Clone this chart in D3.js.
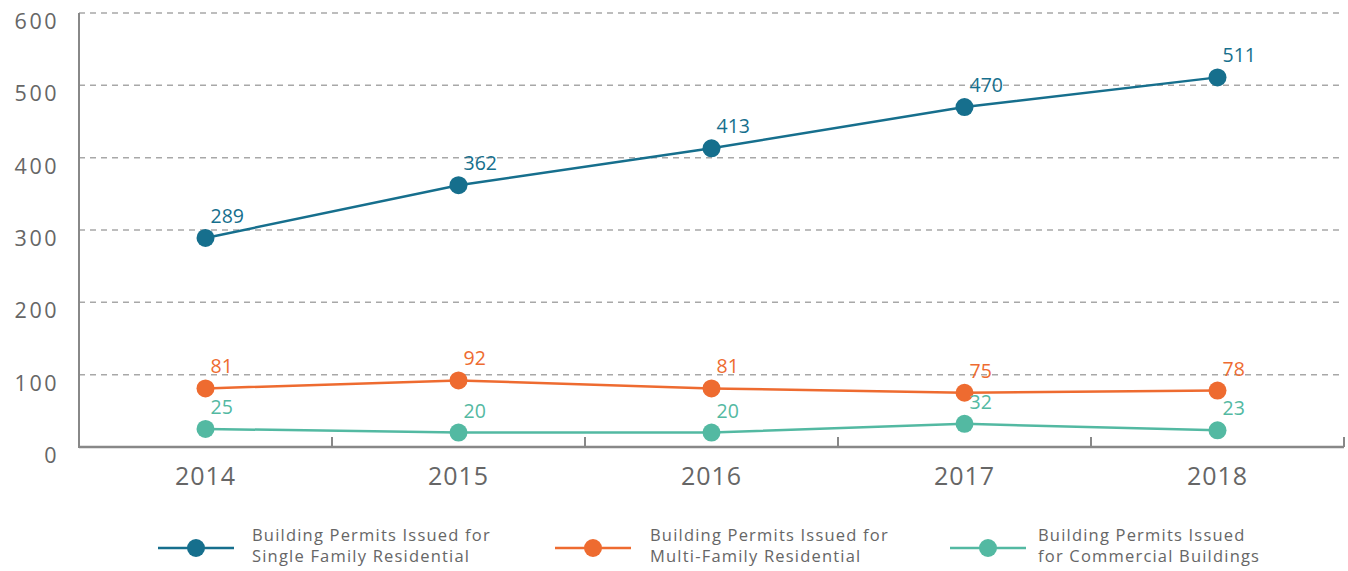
<!DOCTYPE html>
<html>
<head>
<meta charset="utf-8">
<script src="https://cdn.jsdelivr.net/npm/d3@7"></script>
<style>
  body { margin: 0; background: #fff; }
  svg text { font-family: "Open Sans", "Noto Sans", sans-serif; }
</style>
</head>
<body>
<svg id="chart"></svg>
<script>
const years = ["2014", "2015", "2016", "2017", "2018"];
const singleFamily = [289, 362, 413, 470, 511];
const multiFamily = [81, 92, 81, 75, 78];
const commercial = [25, 20, 20, 32, 23];
const yTicks = [0, 100, 200, 300, 400, 500, 600];
const seriesNames = [
  ["Building Permits Issued for", "Single Family Residential"],
  ["Building Permits Issued for", "Multi-Family Residential"],
  ["Building Permits Issued", "for Commercial Buildings"]
];
const colors = ["#166f8d", "#ee6b30", "#53b9a2"];

const width = 1348, height = 571;
const marginLeft = 79, marginRight = 4, marginTop = 13, marginBottom = 124;

const svg = d3.select("#chart")
  .attr("width", width)
  .attr("height", height);

const x = d3.scaleBand()
  .domain(years)
  .range([marginLeft, width - marginRight]);
const y = d3.scaleLinear()
  .domain([0, 600])
  .range([height - marginBottom, marginTop]);

// gridlines
svg.append("g").selectAll("line")
  .data(yTicks.filter(d => d > 0))
  .join("line")
  .attr("x1", marginLeft).attr("x2", width - marginRight)
  .attr("y1", d => y(d)).attr("y2", d => y(d))
  .attr("stroke", "#a8a8a8")
  .attr("stroke-width", 1.5)
  .attr("stroke-dasharray", "6,5");

// y labels
svg.append("g").selectAll("text")
  .data(yTicks)
  .join("text")
  .attr("x", 59)
  .attr("y", d => y(d) + 16)
  .attr("text-anchor", "end")
  .attr("fill", "#666")
  .style("font-size", "21.5px")
  .style("letter-spacing", "2.5px")
  .text(d => d);

// axes lines
const axisColor = "#888";
svg.append("line")
  .attr("x1", marginLeft).attr("x2", marginLeft)
  .attr("y1", y(600)).attr("y2", y(0) + 1)
  .attr("stroke", axisColor).attr("stroke-width", 2);
svg.append("line")
  .attr("x1", marginLeft).attr("x2", width - marginRight)
  .attr("y1", y(0)).attr("y2", y(0))
  .attr("stroke", axisColor).attr("stroke-width", 2.5);

// category boundary ticks
const bounds = years.slice(1).map(d => x(d)).concat([width - marginRight]);
svg.append("g").selectAll("line")
  .data(bounds)
  .join("line")
  .attr("x1", d => d).attr("x2", d => d)
  .attr("y1", y(0) - 10).attr("y2", y(0))
  .attr("stroke", axisColor).attr("stroke-width", 2);

// x labels
svg.append("g").selectAll("text")
  .data(years)
  .join("text")
  .attr("x", d => x(d) + x.bandwidth() / 2)
  .attr("y", y(0) + 38)
  .attr("text-anchor", "middle")
  .attr("fill", "#666")
  .style("font-size", "25px")
  .style("letter-spacing", "1px")
  .text(d => d);

const cx = d => x(d) + x.bandwidth() / 2;
const allSeries = [singleFamily, multiFamily, commercial];

allSeries.forEach((vals, si) => {
  const pts = years.map((yr, i) => ({ yr, v: vals[i] }));
  const line = d3.line().x(d => cx(d.yr)).y(d => y(d.v));
  svg.append("path")
    .datum(pts)
    .attr("d", line)
    .attr("fill", "none")
    .attr("stroke", colors[si])
    .attr("stroke-width", 2.5);
  svg.append("g").selectAll("circle")
    .data(pts)
    .join("circle")
    .attr("cx", d => cx(d.yr))
    .attr("cy", d => y(d.v))
    .attr("r", 9)
    .attr("fill", colors[si]);
  svg.append("g").selectAll("text")
    .data(pts)
    .join("text")
    .attr("x", d => cx(d.yr) + 5)
    .attr("y", d => y(d.v) - 15)
    .attr("fill", colors[si])
    .style("font-size", "19.5px")
    .text(d => d.v);
});

// legend
const legendX = [158, 555, 950];
const legendTextX = [252, 650, 1038];
const legend = svg.append("g");
seriesNames.forEach((name, i) => {
  const lx = legendX[i];
  legend.append("line")
    .attr("x1", lx).attr("x2", lx + 76)
    .attr("y1", 548).attr("y2", 548)
    .attr("stroke", colors[i]).attr("stroke-width", 2.5);
  legend.append("circle")
    .attr("cx", lx + 38).attr("cy", 548).attr("r", 9)
    .attr("fill", colors[i]);
  legend.append("text")
    .attr("x", legendTextX[i]).attr("y", 541)
    .attr("fill", "#666")
    .style("font-size", "16.5px")
    .style("letter-spacing", "1.2px")
    .text(name[0]);
  legend.append("text")
    .attr("x", legendTextX[i]).attr("y", 562)
    .attr("fill", "#666")
    .style("font-size", "16.5px")
    .style("letter-spacing", "1.2px")
    .text(name[1]);
});
</script>
</body>
</html>
